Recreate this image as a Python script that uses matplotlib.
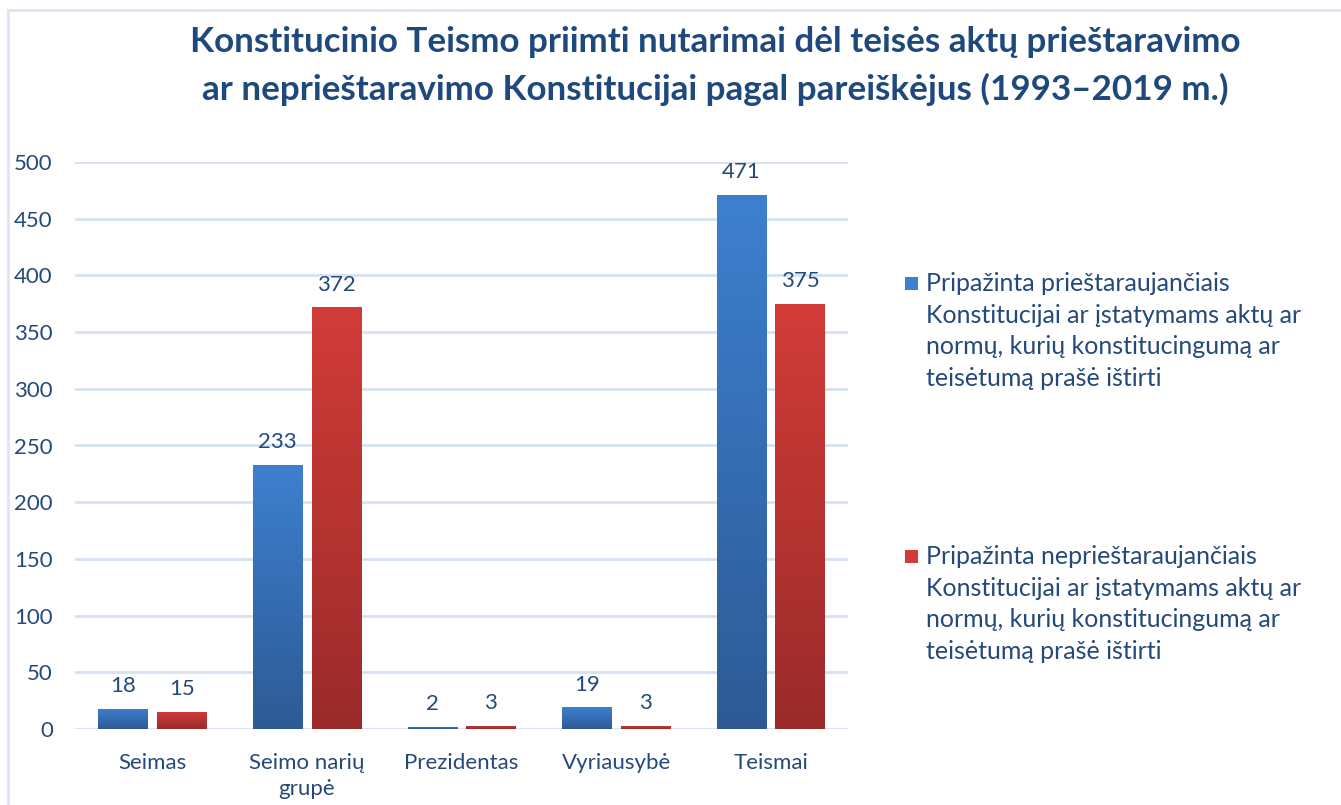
import matplotlib
matplotlib.use("Agg")
import matplotlib.pyplot as plt
import numpy as np
from matplotlib.patches import Rectangle
from matplotlib.colors import LinearSegmentedColormap

plt.rcParams['font.family'] = ['Lato', 'DejaVu Sans']

categories = ["Seimas", "Seimo narių\ngrupė", "Prezidentas", "Vyriausybė", "Teismai"]
series_names = [
    "Pripažinta prieštaraujančiais\nKonstitucijai ar įstatymams aktų ar\nnormų, kurių konstitucingumą ar\nteisėtumą prašė ištirti",
    "Pripažinta neprieštaraujančiais\nKonstitucijai ar įstatymams aktų ar\nnormų, kurių konstitucingumą ar\nteisėtumą prašė ištirti",
]
priestaraujanciais = [18, 233, 2, 19, 471]
nepriestaraujanciais = [15, 372, 3, 3, 375]
yticks = [0, 50, 100, 150, 200, 250, 300, 350, 400, 450, 500]
title = "Konstitucinio Teismo priimti nutarimai dėl teisės aktų prieštaravimo\nar neprieštaravimo Konstitucijai pagal pareiškėjus (1993–2019 m.)"

text_col = '#25497A'
title_col = '#1F497D'
grid_col = '#D6E2F2'
grads = [('#3E80D0', '#2D5A95'), ('#D23C38', '#9A2B2A')]

fig = plt.figure(figsize=(13.41, 8.05), dpi=100)
W, H = 1341, 805
ax = fig.add_axes([75 / W, 1 - 729 / H, (848 - 75) / W, (729 - 162) / H])

# figure border
fig.add_artist(Rectangle((8 / W, -0.05), 1.1, 1 - 10 / H + 0.05, transform=fig.transFigure,
                         fill=False, edgecolor='#DCE6F4', lw=2))

x = np.arange(len(categories))
bw = 0.318
off = 0.19
cmaps = [LinearSegmentedColormap.from_list('g%d' % i, [c[1], c[0]]) for i, c in enumerate(grads)]
grad = np.linspace(0, 1, 256).reshape(-1, 1)

for si, (vals, offset) in enumerate([(priestaraujanciais, -off), (nepriestaraujanciais, off)]):
    bars = ax.bar(x + offset, vals, width=bw, color=grads[si][0], zorder=3, linewidth=0)
    for b, v in zip(bars, vals):
        x0, w, h = b.get_x(), b.get_width(), b.get_height()
        im = ax.imshow(grad, cmap=cmaps[si], origin='lower', aspect='auto',
                       extent=[x0, x0 + w, 0, h], zorder=3.5)
        im.set_clip_path(b)
        ax.annotate(str(v), (x0 + w / 2, h), xytext=(0, 9), textcoords='offset points',
                    ha='center', va='bottom', fontsize=16, color=text_col)

ax.set_xlim(-0.5, len(categories) - 0.5)
ax.set_ylim(0, 500)
ax.set_yticks(yticks)
ax.set_xticks(x)
ax.set_xticklabels(categories, fontsize=16, color=text_col, linespacing=1.4)
ax.tick_params(axis='y', length=0, pad=16, labelsize=16, labelcolor=text_col)
ax.tick_params(axis='x', length=0, pad=17)
ax.grid(axis='y', color=grid_col, lw=2, zorder=0)
for s in ax.spines.values():
    s.set_visible(False)

fig.text(715 / W, 1 - 66 / H, title, ha='center', va='center', fontsize=25.2,
         fontweight='bold', color=title_col, linespacing=1.55)

# legend
leg_centers = [283, 556]
for si in range(2):
    c = leg_centers[si]
    fig.add_artist(Rectangle((905 / W, 1 - (c + 7) / H), 13 / W, 13 / H,
                             transform=fig.transFigure, color=grads[si][0], lw=0))
    fig.text(926 / W, 1 - (c - 11) / H, series_names[si], ha='left', va='top', fontsize=18,
             color=text_col, linespacing=1.45)

fig.savefig('out.png', dpi=100)
